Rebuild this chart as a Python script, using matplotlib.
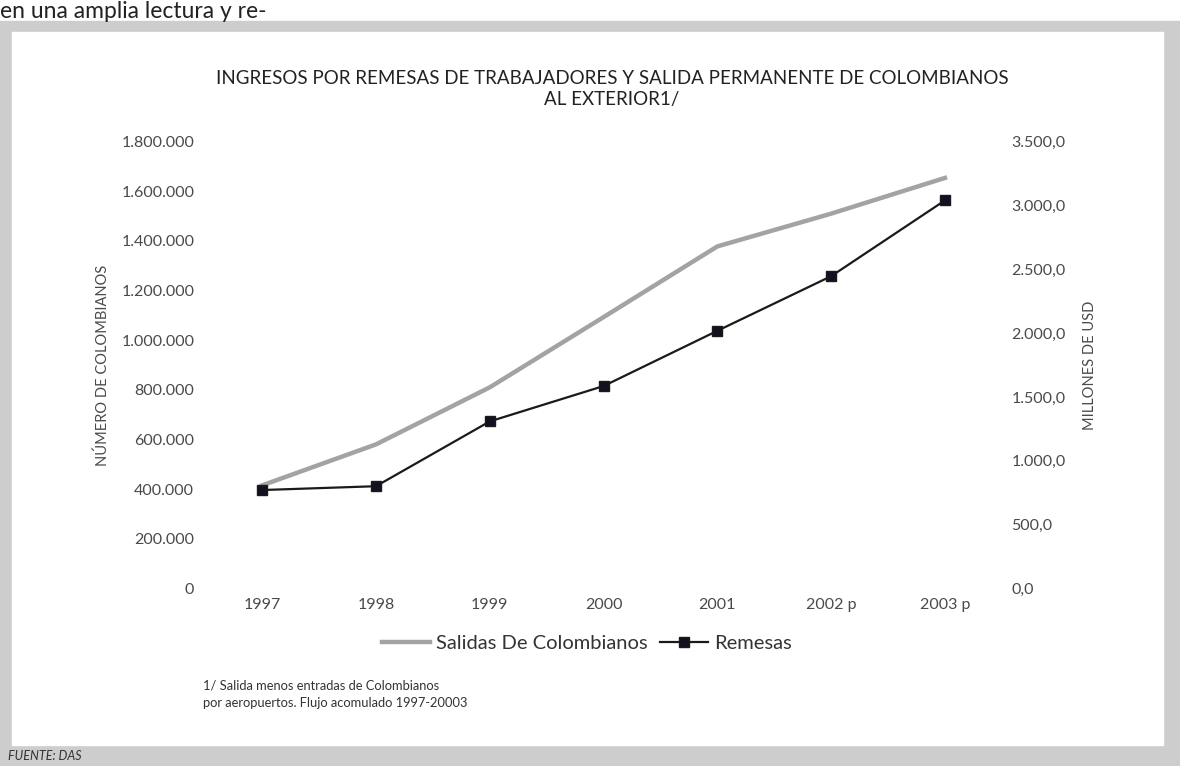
import matplotlib.pyplot as plt
from matplotlib.patches import Rectangle
from matplotlib.lines import Line2D
from matplotlib.ticker import FuncFormatter

plt.rcParams["font.family"] = ["Lato", "DejaVu Sans"]

YEARS = ["1997", "1998", "1999", "2000", "2001", "2002 p", "2003 p"]
SALIDAS = [415000, 580000, 810000, 1093000, 1378000, 1510000, 1654000]
REMESAS = [770.0, 800.0, 1308.0, 1585.0, 2018.0, 2446.0, 3040.0]
LEFT_TICKS = [0, 200000, 400000, 600000, 800000, 1000000, 1200000, 1400000, 1600000, 1800000]
RIGHT_TICKS = [0, 500, 1000, 1500, 2000, 2500, 3000, 3500]

TEXT = "#4a4a4a"
FRAME = "#cdcdcd"


def fmt_left(v, _pos):
    return f"{int(v):,}".replace(",", ".")


def fmt_right(v, _pos):
    return f"{v:,.1f}".replace(",", "X").replace(".", ",").replace("X", ".")


fig = plt.figure(figsize=(11.8, 7.66), dpi=100)

# scanned page frame
fig.patches.append(Rectangle((0, 0), 1, 1 - 21 / 766, transform=fig.transFigure,
                             color=FRAME, zorder=-10))
fig.patches.append(Rectangle((12 / 1180, 21 / 766), (1163 - 12) / 1180, (734 - 21) / 766,
                             transform=fig.transFigure, color="white", zorder=-9))
fig.text(0.0, 1.0 - 1 / 766, "en una amplia lectura y re-", fontsize=16.5, color="#222222",
         ha="left", va="top")

ax = fig.add_axes([0.174, 0.232, 0.675, 0.583])
ax2 = ax.twinx()
ax.patch.set_alpha(0)
ax2.patch.set_alpha(0)
x = range(len(YEARS))

ax.plot(x, SALIDAS, color="#a3a3a3", linewidth=3.2, zorder=2)
ax2.plot(x, REMESAS, color="#1a1a1a", linewidth=1.6, marker="s", markersize=7.5,
         markerfacecolor="#111122", zorder=3)

ax.set_xlim(-0.5, len(YEARS) - 0.5)
ax.set_ylim(0, 1800000)
ax2.set_ylim(0, 3500)
ax.set_yticks(LEFT_TICKS)
ax2.set_yticks(RIGHT_TICKS)
ax.yaxis.set_major_formatter(FuncFormatter(fmt_left))
ax2.yaxis.set_major_formatter(FuncFormatter(fmt_right))
ax.set_xticks(list(x))
ax.set_xticklabels(YEARS)

for a in (ax, ax2):
    for s in a.spines.values():
        s.set_visible(False)
    a.tick_params(length=0, labelsize=11.5, labelcolor=TEXT)
ax.tick_params(axis="y", pad=8)
ax.tick_params(axis="x", pad=7)
ax2.tick_params(axis="y", pad=7)

ax.set_ylabel("NÚMERO DE COLOMBIANOS", fontsize=10.5, color=TEXT, labelpad=8)
ax2.set_ylabel("MILLONES DE USD", fontsize=10.5, color=TEXT, labelpad=12)

fig.text(612 / 1180, 1 - 89 / 766,
         "INGRESOS POR REMESAS DE TRABAJADORES Y SALIDA PERMANENTE DE COLOMBIANOS\nAL EXTERIOR1/",
         ha="center", va="center", fontsize=13.5, color="#222222", linespacing=1.3)

handles = [Line2D([], [], color="#a3a3a3", linewidth=3.2),
           Line2D([], [], color="#1a1a1a", linewidth=1.6, marker="s", markersize=7.5,
                  markerfacecolor="#111122")]
fig.legend(handles, ["Salidas De Colombianos", "Remesas"], loc="center",
           bbox_to_anchor=(587 / 1180, 1 - 643 / 766), ncol=2, frameon=False,
           fontsize=14.5, handlelength=2.4, columnspacing=0.6, handletextpad=0.3,
           labelcolor="#333333")

fig.text(203 / 1180, 1 - 694 / 766,
         "1/ Salida menos entradas de Colombianos\npor aeropuertos. Flujo acomulado 1997-20003",
         ha="left", va="center", fontsize=9.3, color="#333333", linespacing=1.6)

fig.text(8 / 1180, 1 - 756 / 766, "FUENTE: DAS", ha="left", va="center", fontsize=9,
         style="italic", color="#333333")

fig.savefig("out.png", dpi=100)
